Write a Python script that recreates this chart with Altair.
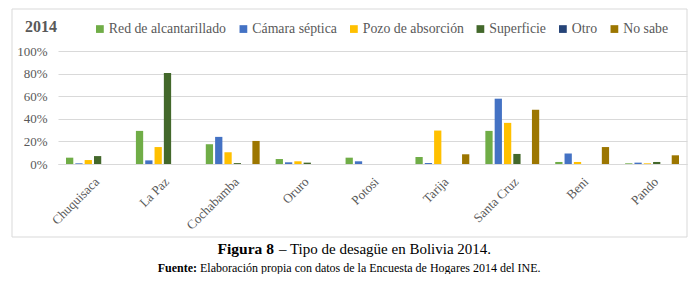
import altair as alt
import pandas as pd

departments = ["Chuquisaca", "La Paz", "Cochabamba", "Oruro", "Potosi",
               "Tarija", "Santa Cruz", "Beni", "Pando"]
series = ["Red de alcantarillado", "Cámara séptica", "Pozo de absorción",
          "Superficie", "Otro", "No sabe"]
colors = ["#70AD47", "#4472C4", "#FFC000", "#43682B", "#264478", "#9C7600"]

red_alcantarillado = [5.6, 29.3, 17.5, 4.4, 5.6, 6.2, 29.3, 1.8, 0.6]
camara_septica = [0.6, 3.2, 24.0, 1.5, 2.4, 0.9, 57.8, 9.2, 1.2]
pozo_absorcion = [3.5, 15.0, 10.4, 2.4, 0.0, 29.6, 36.4, 1.8, 0.6]
superficie = [7.0, 80.6, 0.8, 1.2, 0.0, 0.0, 8.9, 0.0, 1.8]
otro = [0.0, 0.0, 0.0, 0.0, 0.0, 0.0, 0.0, 0.0, 0.0]
no_sabe = [0.0, 0.0, 20.4, 0.0, 0.0, 8.6, 48.0, 15.0, 7.7]

y_ticks = [0, 20, 40, 60, 80, 100]
chart_title = "2014"
caption_bold = ["Figura 8", "Fuente:"]
caption_text = ["– Tipo de desagüe en Bolivia 2014.",
                "Elaboración propia con datos de la Encuesta de Hogares 2014 del INE."]

all_series = [red_alcantarillado, camara_septica, pozo_absorcion, superficie, otro, no_sabe]
rows = []
for i, d in enumerate(departments):
    for s, vals in zip(series, all_series):
        rows.append({"dep": d, "serie": s, "valor": vals[i]})
df = pd.DataFrame(rows)

FONT = "'Liberation Serif', 'Times New Roman', 'DejaVu Serif', serif"
GRAY = "#595959"
GRID = "#D9D9D9"

bars = alt.Chart(df).mark_bar().encode(
    x=alt.X("dep:N", sort=departments, title=None,
            scale=alt.Scale(paddingInner=0.2, paddingOuter=0.1),
            axis=alt.Axis(labelAngle=315, labelFont=FONT, labelFontSize=13,
                          labelColor=GRAY, ticks=False, domainColor=GRID,
                          labelPadding=11, grid=False)),
    xOffset=alt.XOffset("serie:N", sort=series,
                        scale=alt.Scale(paddingInner=0.22, paddingOuter=0.11)),
    y=alt.Y("valor:Q", title=None, scale=alt.Scale(domain=[0, 100]),
            axis=alt.Axis(values=y_ticks, labelExpr="datum.value + '%'",
                          labelFont=FONT, labelFontSize=13, labelColor=GRAY,
                          ticks=False, domain=False, gridColor=GRID,
                          labelPadding=11)),
    color=alt.Color("serie:N", sort=series,
                    scale=alt.Scale(domain=series, range=colors),
                    legend=alt.Legend(title=None, orient="none", direction="horizontal",
                                      legendX=35, legendY=-29, padding=0,
                                      symbolType="square", symbolSize=60,
                                      symbolStrokeWidth=0, labelFont=FONT,
                                      labelFontSize=13.8, labelColor=GRAY,
                                      labelOffset=2, columnPadding=9.5)),
)

frame = alt.Chart(alt.Data(values=[{"f": 1}])).mark_rect(
    fill="transparent", stroke=GRID, strokeWidth=1
).encode(x=alt.value(-46), x2=alt.value(629), y=alt.value(-42), y2=alt.value(186))

title_txt = alt.Chart(alt.Data(values=[{"t": chart_title}])).mark_text(
    font=FONT, fontSize=16, fontWeight="bold", color=GRAY, align="left", baseline="alphabetic"
).encode(text="t:N", x=alt.value(-33), y=alt.value(-19))

fig_b = alt.Chart(alt.Data(values=[{"t": caption_bold[0]}])).mark_text(
    font=FONT, fontSize=15.5, fontWeight="bold", color="black", align="right", baseline="alphabetic"
).encode(text="t:N", x=alt.value(216), y=alt.value(203))
fig_n = alt.Chart(alt.Data(values=[{"t": caption_text[0]}])).mark_text(
    font=FONT, fontSize=15, color="black", align="left", baseline="alphabetic"
).encode(text="t:N", x=alt.value(221), y=alt.value(203))
src_b = alt.Chart(alt.Data(values=[{"t": caption_bold[1]}])).mark_text(
    font=FONT, fontSize=12, fontWeight="bold", color="black", align="right", baseline="alphabetic"
).encode(text="t:N", x=alt.value(139), y=alt.value(221))
src_n = alt.Chart(alt.Data(values=[{"t": caption_text[1]}])).mark_text(
    font=FONT, fontSize=12, color="black", align="left", baseline="alphabetic"
).encode(text="t:N", x=alt.value(142), y=alt.value(221))

chart = alt.layer(frame, bars, title_txt, fig_b, fig_n, src_b, src_n).properties(
    width=629, height=113,
    autosize=alt.AutoSizeParams(type="none"),
    padding={"left": 50, "top": 43, "right": 4, "bottom": 110},
    background="white",
).configure(font=FONT).configure_view(strokeWidth=0).configure_axis(
    labelFont=FONT
).configure_legend(labelFont=FONT)

chart.save("out.html", embed_options={"renderer": "svg", "actions": False})
